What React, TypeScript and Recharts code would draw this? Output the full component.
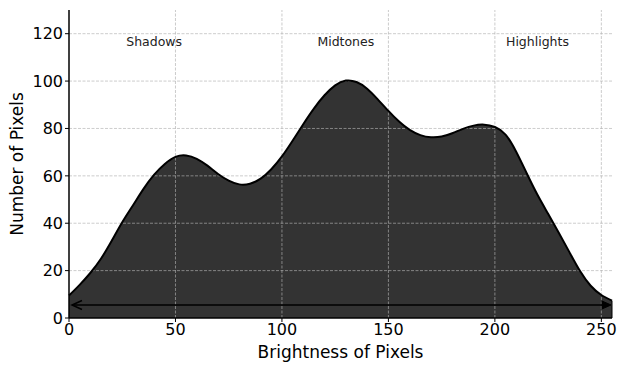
import React from 'react';
import {
  ComposedChart,
  Area,
  Line,
  XAxis,
  YAxis,
  ReferenceLine,
  ReferenceDot,
  Label,
} from 'recharts';

// brightness bins (x) and pixel counts
const brightness = [
  0, 5, 10, 15, 20, 25, 30, 35, 40, 45, 50, 55, 60, 65, 70, 75, 80, 85, 90, 95,
  100, 105, 110, 115, 120, 125, 130, 135, 140, 145, 150, 155, 160, 165, 170, 175,
  180, 185, 190, 195, 200, 205, 210, 215, 220, 225, 230, 235, 240, 245, 250, 255,
];
const pixelCounts = [
  9.5, 14, 19, 25, 32.5, 40.4, 47.5, 54.5, 60.5, 65, 68, 68.6, 67.2, 64.3, 60.8, 58,
  56.4, 56.7, 58.8, 62.8, 68.2, 74.8, 81.8, 88.4, 94, 98.2, 100.2, 99.6, 96.8, 92.3, 87.4, 82.9,
  79.4, 77.2, 76.3, 76.6, 78, 79.8, 81.2, 81.6, 80.6, 77.4, 70.2, 61, 52, 44, 36, 27.8,
  19.8, 13.6, 9.7, 7.3,
];

const xTicks = [0, 50, 100, 150, 200, 250];
const yTicks = [0, 20, 40, 60, 80, 100, 120];

// tonal range annotations
const zoneNames = ['Shadows', 'Midtones', 'Highlights'];
const zoneX = [40, 130, 220];
const zoneY = 116.5;
const arrowY = 5.5;

const data = brightness.map((b, i) => ({ b, count: pixelCounts[i] }));
const last = data[data.length - 1];

const FONT = 'DejaVu Sans, Verdana, sans-serif';
const GRID = { stroke: '#b0b0b0', strokeOpacity: 0.65, strokeDasharray: '3 1.5', strokeWidth: 1 };

const ArrowShape = (props: any) => {
  const { x1, y1, x2, y2 } = props;
  const l = x1 + 3;
  const r = x2 - 1;
  return (
    <g>
      <line x1={l} y1={y1} x2={r - 4} y2={y2} stroke="#000" strokeWidth={1.5} />
      <path d={`M${l + 10},${y1 - 4.5} L${l},${y1} L${l + 10},${y1 + 4.5}`} stroke="#000" strokeWidth={1.5} fill="none" />
      <path d={`M${r - 9},${y2 - 4} L${r},${y2} L${r - 9},${y2 + 4} Z`} stroke="#000" strokeWidth={1} fill="#000" />
    </g>
  );
};

export default function App() {
  return (
    <div style={{ position: 'absolute', left: 0, top: 0, width: 627, height: 371, background: '#fff' }}>
      <ComposedChart
        width={627}
        height={371}
        data={data}
        margin={{ top: 10, right: 15, left: 0, bottom: 0 }}
        style={{ fontFamily: FONT }}
      >
        <Area
          type="natural"
          dataKey="count"
          fill="#333333"
          fillOpacity={1}
          stroke="none"
          isAnimationActive={false}
        />
        {xTicks.filter((t) => t > 0).map((t) => (
          <ReferenceLine key={'gx' + t} x={t} {...GRID} />
        ))}
        {yTicks.filter((t) => t > 0).map((t) => (
          <ReferenceLine key={'gy' + t} y={t} {...GRID} />
        ))}
        <XAxis
          dataKey="b"
          type="number"
          domain={[0, 255]}
          ticks={xTicks}
          height={53}
          tickSize={4}
          tick={{ fill: '#000', fontSize: 16 }}
          stroke="#000"
          axisLine={{ stroke: '#000', strokeWidth: 1.5 }}
          tickLine={{ stroke: '#000' }}
        >
          <Label
            content={(p: any) => {
              const vb = p.viewBox;
              return (
                <text x={vb.x + vb.width / 2} y={vb.y + 40} textAnchor="middle" fontSize={17} fill="#000" fontFamily={FONT}>
                  Brightness of Pixels
                </text>
              );
            }}
          />
        </XAxis>
        <YAxis
          type="number"
          domain={[0, 130]}
          ticks={yTicks}
          width={69}
          tickSize={4}
          tick={{ fill: '#000', fontSize: 16 }}
          stroke="#000"
          axisLine={{ stroke: '#000', strokeWidth: 1.5 }}
          tickLine={{ stroke: '#000' }}
        >
          <Label
            content={(p: any) => {
              const vb = p.viewBox;
              const cx = vb.x + 23;
              const cy = vb.y + vb.height / 2;
              return (
                <text x={cx} y={cy} textAnchor="middle" fontSize={17} fill="#000" fontFamily={FONT} transform={`rotate(-90, ${cx}, ${cy})`}>
                  Number of Pixels
                </text>
              );
            }}
          />
        </YAxis>
        <Line
          type="natural"
          dataKey="count"
          stroke="#000"
          strokeWidth={2}
          dot={false}
          isAnimationActive={false}
        />
        <ReferenceLine
          segment={[{ x: last.b, y: 0 }, { x: last.b, y: last.count }]}
          stroke="#000"
          strokeWidth={1}
        />
        <ReferenceLine
          segment={[{ x: 0, y: arrowY }, { x: last.b, y: arrowY }]}
          shape={ArrowShape}
        />
        {zoneNames.map((name, i) => (
          <ReferenceDot
            key={name}
            x={zoneX[i]}
            y={zoneY}
            r={0}
            stroke="none"
            label={{ value: name, position: 'center', fontSize: 12.5, fill: '#222' }}
          />
        ))}
      </ComposedChart>
    </div>
  );
}
